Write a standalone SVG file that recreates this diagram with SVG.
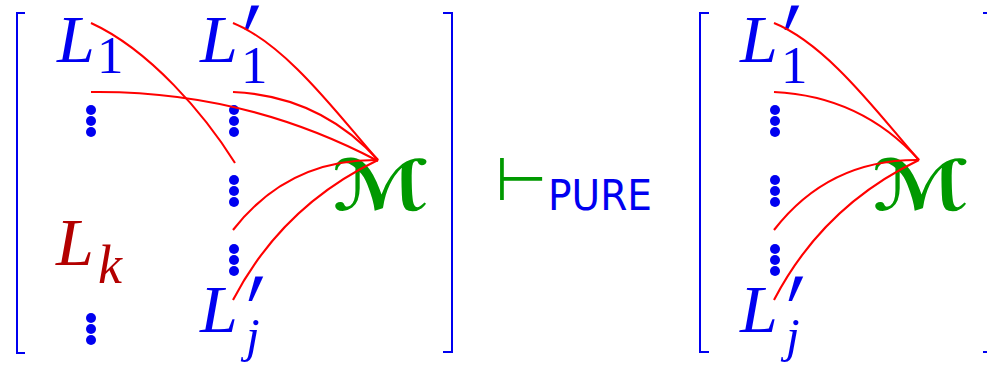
<svg xmlns="http://www.w3.org/2000/svg" width="987" height="366" viewBox="0 0 987 366">
<style>
.br{fill:none;stroke:#0000f0;stroke-width:2}
.it{font-family:"Liberation Serif",serif;font-style:italic;fill:#0000f0}
.rm{font-family:"Liberation Serif",serif;fill:#0000f0}
.pr{font-family:"DejaVu Sans",sans-serif;fill:#0000f0;font-size:100px}
.dk{fill:#b30000}
.dot{fill:#0000f0}
.cal{font-family:"DejaVu Sans",sans-serif;font-weight:bold;fill:#009900;font-size:70px}
.arc{fill:none;stroke:#ff0000;stroke-width:2.1}
</style>
<defs>
<g id="vd"><circle cx="0" cy="0" r="5"/><circle cx="0" cy="11" r="5"/><circle cx="0" cy="22" r="5"/></g>
</defs>
<rect width="987" height="366" fill="#ffffff"/>
<g id="brackets">
<path class="br" d="M25,13H17V353H25"/>
<path class="br" d="M443,13H452V352H443"/>
<path class="br" d="M709,13H700V352H709"/>
<path class="br" d="M983,13H992V352H983"/>
</g>
<g id="L1"><text class="it" x="57" y="62" font-size="68">L</text><text class="rm" x="97" y="73" font-size="53">1</text></g>
<g id="dotsA" class="dot"><use href="#vd" x="91" y="110"/></g>
<g id="Lk"><text class="it dk" x="56" y="265" font-size="68">L</text><text class="it dk" x="98" y="283" font-size="54">k</text></g>
<g id="dotsB" class="dot"><use href="#vd" x="91" y="318"/></g>
<g id="L1p"><text class="it" x="200" y="62" font-size="68">L</text><text class="pr" transform="translate(243,104) scale(0.8,1.35)">′</text><text class="rm" x="241" y="83" font-size="53">1</text></g>
<g id="dotsC" class="dot"><use href="#vd" x="234" y="110"/><use href="#vd" x="234" y="180"/><use href="#vd" x="234" y="249"/></g>
<g id="Ljp"><text class="it" x="200" y="332" font-size="68">L</text><text class="pr" transform="translate(247,375) scale(0.8,1.35)">′</text><text class="it" x="246" y="352" font-size="49">j</text></g>
<g id="M"><text class="cal" transform="translate(332,210) scale(1.17,1)">ℳ</text></g>
<g id="turnstile"><text x="495" y="200" font-family="DejaVu Sans,sans-serif" font-size="60" fill="#009900">⊢</text><text x="548" y="210" font-family="DejaVu Sans,sans-serif" font-size="42" fill="#0000f0" textLength="104" lengthAdjust="spacingAndGlyphs">PURE</text></g>
<g id="R_L1p"><text class="it" x="740" y="62" font-size="68">L</text><text class="pr" transform="translate(783,104) scale(0.8,1.35)">′</text><text class="rm" x="781" y="83" font-size="53">1</text></g>
<g id="R_dots" class="dot"><use href="#vd" x="775" y="110"/><use href="#vd" x="775" y="180"/><use href="#vd" x="775" y="249"/></g>
<g id="R_Ljp"><text class="it" x="740" y="332" font-size="68">L</text><text class="pr" transform="translate(787,375) scale(0.8,1.35)">′</text><text class="it" x="786" y="352" font-size="49">j</text></g>
<g id="R_M"><text class="cal" transform="translate(872,210) scale(1.17,1)">ℳ</text></g>
<g id="connectors">
<path class="arc" d="M91,23C150,50 205,115 235,163"/>
<path class="arc" d="M91,92Q243,90 378,161"/>
<path class="arc" d="M233,23C288,45 342,120 378,160"/>
<path class="arc" d="M233,92Q320,96 378,160"/>
<path class="arc" d="M233,230Q288,159 378,160"/>
<path class="arc" d="M233,300Q282,206 378,160"/>
<path class="arc" d="M774,23C829,45 883,120 919,160"/>
<path class="arc" d="M774,92Q861,96 919,160"/>
<path class="arc" d="M774,230Q829,159 919,160"/>
<path class="arc" d="M774,300Q823,206 919,160"/>
</g>
</svg>
